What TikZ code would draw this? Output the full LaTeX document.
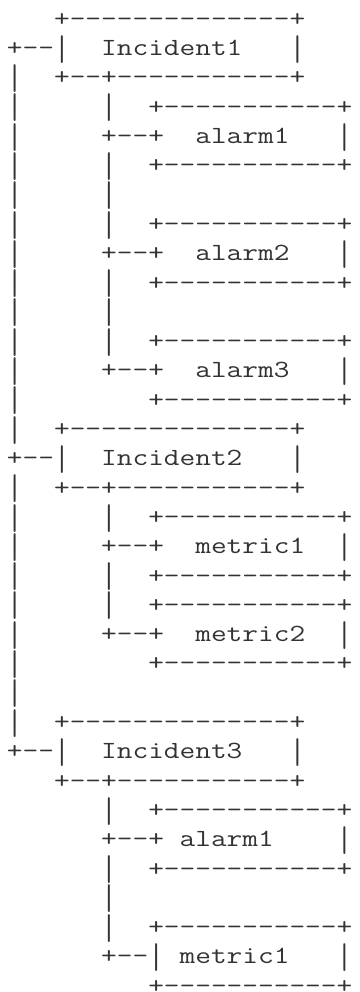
\documentclass[tikz,border=0pt]{standalone}
\usepackage{fontspec}
\usepackage{graphicx}

% One line of the text tree: monospaced, stretched so a column is 16 units wide
\tikzset{
  asciiline/.style={anchor=base west, inner sep=0pt, outer sep=0pt,
    text=black!80, font=\fontsize{18.5pt}{20pt}\selectfont\ttfamily},
}
% A bar character drawn tall enough to nearly join the bars of the lines above and below
\newcommand\vb{\raisebox{-0.19em}{\scalebox{1}[1.45]{|}}}
% #1 node name, #2 line number (from the top), #3 line text (~ = one blank column)
\newcommand\treeline[3]{%
  \node[asciiline] (#1) at (7,{-(26.3+(#2-1)*29.3)}) {\scalebox{1.2355}[1]{#3}};%
}

\begin{document}
\begin{tikzpicture}[x=0.75pt,y=0.75pt]
  \fill[white] (0,0) rectangle (360,-992);
  \useasboundingbox (0,0) rectangle (360,-992);

  % Incident1 and its alarms
  \treeline{r1}{1}{~~~+--------------+}
  \treeline{r2}{2}{+--\vb~~Incident1~~~\vb}
  \treeline{r3}{3}{\vb~~+--+-----------+}
  \treeline{r4}{4}{\vb~~~~~\vb~~+-----------+}
  \treeline{r5}{5}{\vb~~~~~+--+~~alarm1~~~\vb}
  \treeline{r6}{6}{\vb~~~~~\vb~~+-----------+}
  \treeline{r7}{7}{\vb~~~~~\vb}
  \treeline{r8}{8}{\vb~~~~~\vb~~+-----------+}
  \treeline{r9}{9}{\vb~~~~~+--+~~alarm2~~~\vb}
  \treeline{r10}{10}{\vb~~~~~\vb~~+-----------+}
  \treeline{r11}{11}{\vb~~~~~\vb}
  \treeline{r12}{12}{\vb~~~~~\vb~~+-----------+}
  \treeline{r13}{13}{\vb~~~~~+--+~~alarm3~~~\vb}
  \treeline{r14}{14}{\vb~~~~~~~~+-----------+}

  % Incident2 and its metrics
  \treeline{r15}{15}{\vb~~+--------------+}
  \treeline{r16}{16}{+--\vb~~Incident2~~~\vb}
  \treeline{r17}{17}{\vb~~+--+-----------+}
  \treeline{r18}{18}{\vb~~~~~\vb~~+-----------+}
  \treeline{r19}{19}{\vb~~~~~+--+~~metric1~~\vb}
  \treeline{r20}{20}{\vb~~~~~\vb~~+-----------+}
  \treeline{r21}{21}{\vb~~~~~\vb~~+-----------+}
  \treeline{r22}{22}{\vb~~~~~+--+~~metric2~~\vb}
  \treeline{r23}{23}{\vb~~~~~~~~+-----------+}
  \treeline{r24}{24}{\vb}

  % Incident3 with an alarm and a metric
  \treeline{r25}{25}{\vb~~+--------------+}
  \treeline{r26}{26}{+--\vb~~Incident3~~~\vb}
  \treeline{r27}{27}{~~~+--+-----------+}
  \treeline{r28}{28}{~~~~~~\vb~~+-----------+}
  \treeline{r29}{29}{~~~~~~+--+~alarm1~~~~\vb}
  \treeline{r30}{30}{~~~~~~\vb~~+-----------+}
  \treeline{r31}{31}{~~~~~~\vb}
  \treeline{r32}{32}{~~~~~~\vb~~+-----------+}
  \treeline{r33}{33}{~~~~~~+--\vb~metric1~~~\vb}
  \treeline{r34}{34}{~~~~~~~~~+-----------+}
\end{tikzpicture}
\end{document}
